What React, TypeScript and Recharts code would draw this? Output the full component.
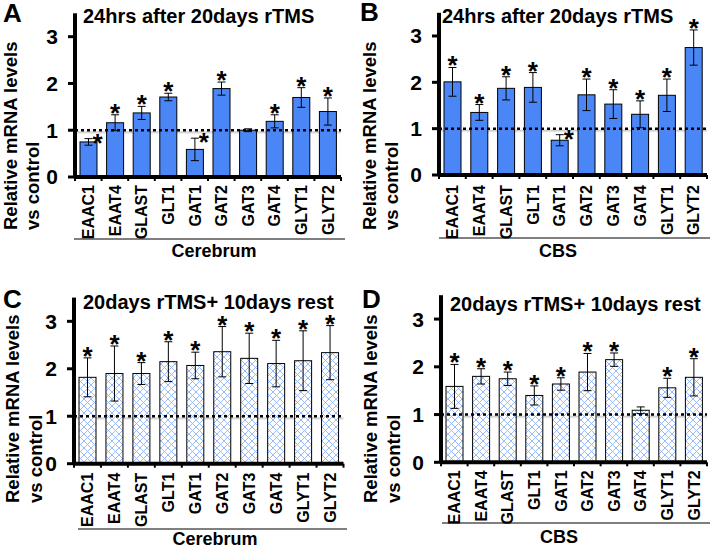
import React from 'react';
import { BarChart, Bar, XAxis, YAxis, ErrorBar, ReferenceLine, ReferenceArea } from 'recharts';

const genes = ['EAAC1', 'EAAT4', 'GLAST', 'GLT1', 'GAT1', 'GAT2', 'GAT3', 'GAT4', 'GLYT1', 'GLYT2'];

const aMeans = [0.75, 1.16, 1.37, 1.71, 0.59, 1.89, 1.0, 1.19, 1.7, 1.4];
const aErrs = [0.07, 0.17, 0.14, 0.08, 0.24, 0.14, 0.03, 0.14, 0.21, 0.29];
const aStars = ['*', '*', '*', '*', '*', '*', '', '*', '*', '*'];
const aSide = ['EAAC1', 'GAT1'];

const bMeans = [2.01, 1.35, 1.87, 1.89, 0.75, 1.73, 1.53, 1.31, 1.72, 2.75];
const bErrs = [0.31, 0.17, 0.25, 0.32, 0.12, 0.34, 0.31, 0.29, 0.35, 0.38];
const bStars = ['*', '*', '*', '*', '*', '*', '*', '*', '*', '*'];
const bSide = ['GAT1'];

const cMeans = [1.82, 1.9, 1.9, 2.15, 2.07, 2.36, 2.22, 2.11, 2.17, 2.34];
const cErrs = [0.41, 0.58, 0.23, 0.42, 0.28, 0.53, 0.53, 0.49, 0.63, 0.57];
const cStars = ['*', '*', '*', '*', '*', '*', '*', '*', '*', '*'];
const cSide: string[] = [];

const dMeans = [1.59, 1.8, 1.75, 1.4, 1.64, 1.89, 2.15, 1.09, 1.56, 1.78];
const dErrs = [0.46, 0.16, 0.14, 0.2, 0.13, 0.39, 0.14, 0.07, 0.2, 0.39];
const dStars = ['*', '*', '*', '*', '*', '*', '*', '', '*', '*'];
const dSide: string[] = [];

const yTicks = [0, 1, 2, 3];
const yDomain = [0, 3.5];
const titleTop = '24hrs after 20days rTMS';
const titleBottom = '20days rTMS+ 10days rest';
const yLabel1 = 'Relative mRNA levels';
const yLabel2 = 'vs control';

const FONT = '"Liberation Sans", Arial, Helvetica, sans-serif';

const build = (means: number[], errs: number[], stars: string[], side: string[]) =>
  genes.map((g, i) => ({ gene: g, v: means[i], e: errs[i], star: stars[i], side: side.includes(g) }));

const makeShape = (fill: string) => (props: any) => {
  const { x, y, width, height, payload } = props;
  const unit = payload.v ? height / payload.v : 0;
  const errTop = y - payload.e * unit;
  const cx = x + width / 2;
  let star = null;
  if (payload.star) {
    star = payload.side ? (
      <text x={cx + 9} y={errTop + 13} textAnchor="middle" fontSize={26} fontWeight="bold" fontFamily={FONT} fill="#000">
        {payload.star}
      </text>
    ) : (
      <text x={cx} y={errTop + 7} textAnchor="middle" fontSize={26} fontWeight="bold" fontFamily={FONT} fill="#000">
        {payload.star}
      </text>
    );
  }
  return (
    <g>
      <rect x={x} y={y} width={width} height={height} fill={fill} stroke="#000" strokeWidth={1} />
      {star}
    </g>
  );
};

const makeXTick = (band: number, gap: number) => (props: any) => {
  const { x, y, payload } = props;
  const idx = payload.index ?? genes.indexOf(payload.value);
  return (
    <g transform={`translate(${x},${y})`}>
      <line x1={-band / 2} y1={0} x2={-band / 2} y2={4} stroke="#000" strokeWidth={2} />
      {idx === genes.length - 1 ? <line x1={band / 2} y1={0} x2={band / 2} y2={4} stroke="#000" strokeWidth={2} /> : null}
      <text
        transform="rotate(-90)"
        x={-gap}
        y={5.8}
        textAnchor="end"
        fontSize={16}
        fontWeight="bold"
        fontFamily={FONT}
        fill="#000"
      >
        {payload.value}
      </text>
    </g>
  );
};

type PanelCfg = {
  ox: number;
  oy: number;
  left: number;
  right: number;
  top: number;
  bottom: number;
  gap: number;
  fill: string;
  data: any[];
};

const W = 357;
const H = 273;

const Panel = ({ cfg }: { cfg: PanelCfg }) => {
  const band = (cfg.right - cfg.left) / genes.length;
  return (
    <div style={{ position: 'absolute', left: cfg.ox, top: cfg.oy, width: W, height: H }}>
      <BarChart
        width={W}
        height={H}
        data={cfg.data}
        margin={{ top: cfg.top, right: W - cfg.right, bottom: 0, left: 0 }}
        barSize={17}
      >
        <XAxis
          dataKey="gene"
          interval={0}
          height={H - cfg.bottom}
          axisLine={{ stroke: '#000', strokeWidth: 4 }}
          tickLine={false}
          tickSize={0}
          tickMargin={0}
          tick={makeXTick(band, cfg.gap)}
        />
        <YAxis
          type="number"
          domain={yDomain}
          ticks={yTicks}
          width={cfg.left}
          allowDataOverflow
          axisLine={{ stroke: '#000', strokeWidth: 4 }}
          tickLine={{ stroke: '#000', strokeWidth: 3 }}
          tickSize={7}
          tickMargin={10}
          tick={{ fill: '#000', fontSize: 21, fontWeight: 'bold', fontFamily: FONT }}
        />
        <Bar dataKey="v" shape={makeShape(cfg.fill)} isAnimationActive={false}>
          <ErrorBar dataKey="e" direction="y" width={4} stroke="#000" strokeWidth={1} />
        </Bar>
        <ReferenceArea y1={0.91} y2={0.985} fill="url(#shadowGrad)" fillOpacity={1} stroke="none" ifOverflow="visible" />
        <ReferenceLine y={1} stroke="#000" strokeWidth={2.5} strokeDasharray="3 3" />
      </BarChart>
    </div>
  );
};

const panels: PanelCfg[] = [
  { ox: 0, oy: 0, left: 75, right: 341, top: 13.3, bottom: 177, gap: 8, fill: '#4a86f5', data: build(aMeans, aErrs, aStars, aSide) },
  { ox: 357, oy: 0, left: 82, right: 350, top: 12.8, bottom: 175, gap: 10, fill: '#4a86f5', data: build(bMeans, bErrs, bStars, bSide) },
  { ox: 0, oy: 273, left: 74, right: 343.5, top: 24.6, bottom: 190.7, gap: 9, fill: 'url(#hatch)', data: build(cMeans, cErrs, cStars, cSide) },
  { ox: 357, oy: 273, left: 84, right: 350, top: 22.2, bottom: 189.3, gap: 8, fill: 'url(#hatch)', data: build(dMeans, dErrs, dStars, dSide) },
];

const T = (p: any) => <text fontFamily={FONT} fontWeight="bold" fill="#000" {...p} />;

const YLab = ({ x1, x2, y }: { x1: number; x2: number; y: number }) => (
  <g>
    <T x={0} y={0} fontSize={18.5} textAnchor="start" transform={`translate(${x1},${y}) rotate(-90)`}>
      {yLabel1}
    </T>
    <T x={0} y={0} fontSize={18.5} textAnchor="start" transform={`translate(${x2},${y}) rotate(-90)`}>
      {yLabel2}
    </T>
  </g>
);

export default function App() {
  return (
    <div style={{ position: 'absolute', left: 0, top: 0, width: 714, height: 546, background: '#fff', overflow: 'hidden' }}>
      <svg width={0} height={0} style={{ position: 'absolute' }}>
        <defs>
          <pattern id="hatch" patternUnits="userSpaceOnUse" width={7} height={7}>
            <rect x={0} y={0} width={7} height={7} fill="#fff" />
            <path d="M0,0 L7,7 M7,0 L0,7 M-1,6 L1,8 M6,-1 L8,1 M6,8 L8,6 M-1,1 L1,-1" stroke="#8db2fb" strokeWidth={0.9} />
          </pattern>
          <linearGradient id="shadowGrad" x1="0" y1="0" x2="0" y2="1">
            <stop offset="0%" stopColor="#000" stopOpacity={0.05} />
            <stop offset="30%" stopColor="#000" stopOpacity={0.2} />
            <stop offset="100%" stopColor="#000" stopOpacity={0} />
          </linearGradient>
        </defs>
      </svg>
      {panels.map((p, i) => (
        <Panel key={i} cfg={p} />
      ))}
      <svg width={714} height={546} style={{ position: 'absolute', left: 0, top: 0, pointerEvents: 'none' }}>
        {/* Panel A */}
        <T x={3} y={22} fontSize={26}>A</T>
        <T x={83} y={23} fontSize={20}>{titleTop}</T>
        <YLab x1={17} x2={39} y={230} />
        <line x1={74} y1={239} x2={345} y2={239} stroke="#000" strokeWidth={1} />
        <T x={214} y={257} fontSize={18} textAnchor="middle">Cerebrum</T>
        {/* Panel B */}
        <T x={360} y={21} fontSize={26}>B</T>
        <T x={442} y={23} fontSize={20}>{titleTop}</T>
        <YLab x1={376} x2={398} y={230} />
        <line x1={439} y1={238} x2={710} y2={238} stroke="#000" strokeWidth={1} />
        <T x={558} y={257} fontSize={18} textAnchor="middle">CBS</T>
        {/* Panel C */}
        <T x={3} y={308} fontSize={26}>C</T>
        <T x={83} y={309} fontSize={20}>{titleBottom}</T>
        <YLab x1={19} x2={42} y={503} />
        <line x1={78} y1={529} x2={347} y2={529} stroke="#000" strokeWidth={1} />
        <T x={215} y={545} fontSize={18} textAnchor="middle">Cerebrum</T>
        {/* Panel D */}
        <T x={362} y={308} fontSize={26}>D</T>
        <T x={450} y={311} fontSize={20}>{titleBottom}</T>
        <YLab x1={377} x2={400} y={503} />
        <line x1={442} y1={523} x2={710} y2={523} stroke="#000" strokeWidth={1} />
        <T x={559} y={543} fontSize={18} textAnchor="middle">CBS</T>
      </svg>
    </div>
  );
}
